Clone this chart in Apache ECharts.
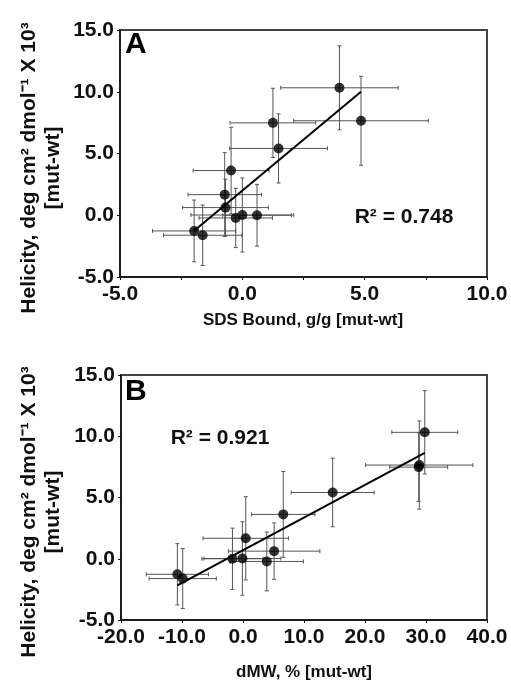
<!DOCTYPE html>
<html><head><meta charset="utf-8">
<script src="https://cdn.jsdelivr.net/npm/echarts@6/dist/echarts.min.js"></script>
<style>html,body{margin:0;padding:0;background:#fff}#c{width:511px;height:694px}</style>
</head><body><div id="c"></div>
<script>
// Helicity difference [mut-wt] (deg cm2 dmol-1 x 10^3) and its error
const helicity    = [10.32, 7.65, 7.48, 5.41, 3.62, 1.67, 0.62, 0.02, 0.00, -0.22, -1.27, -1.62];
const helicityErr = [3.4, 3.6, 2.8, 2.8, 3.5, 3.4, 2.3, 3.0, 2.5, 2.4, 2.5, 2.45];
// Panel A: SDS bound, g/g [mut-wt]
const sdsBound    = [3.97, 4.85, 1.25, 1.48, -0.46, -0.72, -0.69, 0.00, 0.60, -0.27, -1.97, -1.62];
const sdsBoundErr = [2.4, 2.75, 1.75, 2.0, 1.55, 1.5, 1.75, 2.1, 1.4, 1.5, 1.7, 1.6];
// Panel B: dMW, % [mut-wt]
const dMW    = [29.8, 28.9, 28.8, 14.7, 6.6, 0.45, 5.1, -0.1, -1.73, 3.9, -10.76, -9.88];
const dMWErr = [5.4, 8.8, 4.75, 6.8, 5.2, 7.0, 7.5, 6.3, 5.0, 6.0, 5.1, 5.5];
// Linear fits
const fitA = {slope: 1.65, intercept: 2.0, r2: '0.748'};
const fitB = {slope: 0.267, intercept: 0.69, r2: '0.921'};
// Axis tick values
const yTicks = [-5, 0, 5, 10, 15];
const xTicksA = [-5, 0, 5, 10];
const xTicksB = [-20, -10, 0, 10, 20, 30, 40];

const FONT = '"Liberation Sans", Arial, sans-serif';
const chart = echarts.init(document.getElementById('c'), null, {renderer: 'canvas'});

function errData(xs, xe) {
  return xs.map((x, i) => [x, helicity[i], xe[i], helicityErr[i]]);
}
function fitLine(xs, fit) {
  const lo = Math.min(...xs), hi = Math.max(...xs);
  return [[lo, fit.slope * lo + fit.intercept], [hi, fit.slope * hi + fit.intercept]];
}
function renderErr(params, api) {
  const x = api.value(0), y = api.value(1), ex = api.value(2), ey = api.value(3);
  const l = api.coord([x - ex, y]), r = api.coord([x + ex, y]);
  const t = api.coord([x, y + ey]), b = api.coord([x, y - ey]);
  const cap = 2;
  const st = {stroke: '#555', lineWidth: 1};
  const seg = (x1, y1, x2, y2) => ({type: 'line', shape: {x1, y1, x2, y2}, style: st});
  return {type: 'group', children: [
    seg(l[0], l[1], r[0], r[1]),
    seg(l[0], l[1] - cap, l[0], l[1] + cap),
    seg(r[0], r[1] - cap, r[0], r[1] + cap),
    seg(t[0], t[1], b[0], b[1]),
    seg(t[0] - cap, t[1], t[0] + cap, t[1]),
    seg(b[0] - cap, b[1], b[0] + cap, b[1])
  ]};
}
const axisCommon = {
  axisLine: {show: true, onZero: false, lineStyle: {color: '#111', width: 1.5}},
  axisTick: {show: true, inside: false, length: 3, lineStyle: {color: '#111', width: 1}},
  splitLine: {show: false},
  axisLabel: {color: '#111', fontFamily: FONT, fontWeight: 'bold', fontSize: 21}
};
function yAxis(idx) {
  return Object.assign({}, axisCommon, {
    type: 'value', gridIndex: idx, min: yTicks[0], max: yTicks[yTicks.length - 1], interval: 5,
    axisLabel: Object.assign({}, axisCommon.axisLabel, {margin: 6, formatter: v => v.toFixed(1)})
  });
}
const option = {
  animation: false,
  backgroundColor: '#fff',
  grid: [
    {left: 120, top: 30, width: 367, height: 247, show: true, borderColor: '#444', borderWidth: 2, backgroundColor: 'transparent'},
    {left: 121, top: 375, width: 366, height: 245, show: true, borderColor: '#444', borderWidth: 2, backgroundColor: 'transparent'}
  ],
  xAxis: [
    Object.assign({}, axisCommon, {
      type: 'value', gridIndex: 0, min: xTicksA[0], max: xTicksA[xTicksA.length - 1], interval: 2.5,
      axisLabel: Object.assign({}, axisCommon.axisLabel, {margin: 7,
        formatter: v => (xTicksA.indexOf(v) >= 0 ? v.toFixed(1) : '')})
    }),
    Object.assign({}, axisCommon, {
      type: 'value', gridIndex: 1, min: xTicksB[0], max: xTicksB[xTicksB.length - 1], interval: 10,
      axisLabel: Object.assign({}, axisCommon.axisLabel, {margin: 7, formatter: v => v.toFixed(1)})
    })
  ],
  yAxis: [yAxis(0), yAxis(1)],
  series: [
    {type: 'custom', xAxisIndex: 0, yAxisIndex: 0, data: errData(sdsBound, sdsBoundErr),
     encode: {x: 0, y: 1}, renderItem: renderErr, z: 2, silent: true},
    {type: 'line', xAxisIndex: 0, yAxisIndex: 0, data: fitLine(sdsBound, fitA), symbol: 'none',
     lineStyle: {color: '#000', width: 2}, z: 3, silent: true},
    {type: 'scatter', xAxisIndex: 0, yAxisIndex: 0, data: sdsBound.map((x, i) => [x, helicity[i]]),
     symbol: 'circle', symbolSize: 10, itemStyle: {color: '#000'}, z: 4},
    {type: 'custom', xAxisIndex: 1, yAxisIndex: 1, data: errData(dMW, dMWErr),
     encode: {x: 0, y: 1}, renderItem: renderErr, z: 2, silent: true},
    {type: 'line', xAxisIndex: 1, yAxisIndex: 1, data: fitLine(dMW, fitB), symbol: 'none',
     lineStyle: {color: '#000', width: 2}, z: 3, silent: true},
    {type: 'scatter', xAxisIndex: 1, yAxisIndex: 1, data: dMW.map((x, i) => [x, helicity[i]]),
     symbol: 'circle', symbolSize: 10, itemStyle: {color: '#000'}, z: 4}
  ],
  graphic: [
    {type: 'text', left: 125, top: 30, style: {text: 'A', font: 'bold 30px ' + FONT, fill: '#000'}},
    {type: 'text', left: 125, top: 377, style: {text: 'B', font: 'bold 30px ' + FONT, fill: '#000'}},
    {type: 'text', x: 404, y: 217, style: {text: 'R² = ' + fitA.r2, font: 'bold 21px ' + FONT, fill: '#111', align: 'center', verticalAlign: 'middle'}},
    {type: 'text', x: 220, y: 438, style: {text: 'R² = ' + fitB.r2, font: 'bold 21px ' + FONT, fill: '#111', align: 'center', verticalAlign: 'middle'}},
    {type: 'text', x: 303, y: 320, style: {text: 'SDS Bound, g/g [mut-wt]', font: 'bold 17px ' + FONT, fill: '#111', align: 'center', verticalAlign: 'middle'}},
    {type: 'text', x: 304, y: 672, style: {text: 'dMW, % [mut-wt]', font: 'bold 17px ' + FONT, fill: '#111', align: 'center', verticalAlign: 'middle'}},
    {type: 'text', x: 41, y: 168, rotation: Math.PI / 2,
     style: {text: 'Helicity, deg cm² dmol⁻¹ X 10³\n[mut-wt]', font: 'bold 21px ' + FONT, lineHeight: 24, fill: '#111', align: 'center', verticalAlign: 'middle'}},
    {type: 'text', x: 41, y: 512, rotation: Math.PI / 2,
     style: {text: 'Helicity, deg cm² dmol⁻¹ X 10³\n[mut-wt]', font: 'bold 21px ' + FONT, lineHeight: 24, fill: '#111', align: 'center', verticalAlign: 'middle'}}
  ]
};
chart.setOption(option);
</script></body></html>
